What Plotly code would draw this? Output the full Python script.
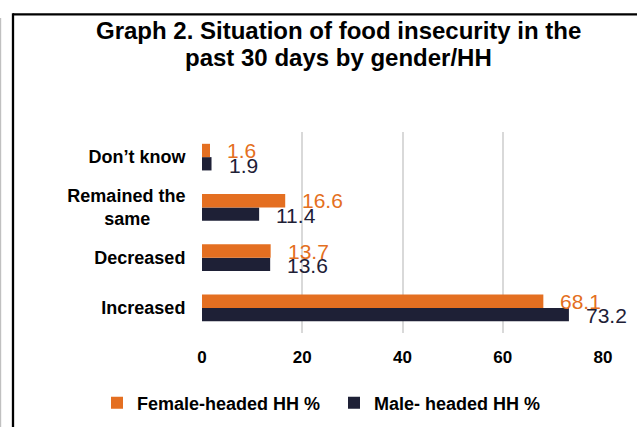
import plotly.graph_objects as go

# ---- data ----
NB = "\u00a0"
categories = ["Increased", "Decreased", "Remained the<br>same" + NB * 7, "Don\u2019t know"]
female = [68.1, 13.7, 16.6, 1.6]
male = [73.2, 13.6, 11.4, 1.9]
series_names = ["Female-headed HH %", "Male- headed HH %"]
x_ticks = [0, 20, 40, 60, 80]
title_lines = ["Graph 2. Situation of food insecurity in the", "past 30 days by gender/HH"]

# ---- styling ----
W, H = 637, 427
ML, MR, MT, MB = 202, 34, 132, 94
PW, PH = W - ML - MR, H - MT - MB
ORANGE = "#E46F21"
NAVY = "#1E2036"
FONT = "Liberation Sans, Arial, sans-serif"


def px_x(p):
    return (p - ML) / PW


def px_y(p):
    return (H - MB - p) / PH


fig = go.Figure()
fig.add_trace(go.Bar(y=categories, x=male, orientation="h", name=series_names[1],
                     marker=dict(color=NAVY, line=dict(width=0))))
fig.add_trace(go.Bar(y=categories, x=female, orientation="h", name=series_names[0],
                     marker=dict(color=ORANGE, line=dict(width=0))))

annotations = []
for cat, v in zip(categories, female):
    annotations.append(dict(x=v, y=cat, xref="x", yref="y", text=f"{v:.1f}",
                            showarrow=False, xanchor="left", yanchor="middle",
                            xshift=15, yshift=6.6,
                            font=dict(family=FONT, size=21, color=ORANGE)))
for cat, v in zip(categories, male):
    annotations.append(dict(x=v, y=cat, xref="x", yref="y", text=f"{v:.1f}",
                            showarrow=False, xanchor="left", yanchor="middle",
                            xshift=15, yshift=-8,
                            font=dict(family=FONT, size=21, color=NAVY)))

# title, two lines
for line, yc in zip(title_lines, [31, 58]):
    annotations.append(dict(x=px_x(338), y=px_y(yc), xref="paper", yref="paper",
                            text=f"<b>{line}</b>", showarrow=False,
                            xanchor="center", yanchor="middle",
                            font=dict(family=FONT, size=24, color="black")))

shapes = [
    # black frame (left and top)
    dict(type="line", xref="paper", yref="paper", x0=px_x(13), x1=px_x(640),
         y0=px_y(14.3), y1=px_y(14.3), line=dict(color="black", width=2.3)),
    dict(type="line", xref="paper", yref="paper", x0=px_x(13), x1=px_x(13),
         y0=px_y(13.2), y1=px_y(430), line=dict(color="black", width=2.3)),
    # faint gray edge at far left
    dict(type="line", xref="paper", yref="paper", x0=px_x(0.6), x1=px_x(0.6),
         y0=px_y(18), y1=px_y(430), line=dict(color="#c0c0c0", width=1.2)),
]

fig.update_layout(
    width=W, height=H,
    margin=dict(l=ML, r=MR, t=MT, b=MB, pad=0, autoexpand=False),
    paper_bgcolor="white", plot_bgcolor="white",
    barmode="group", bargap=0.47, bargroupgap=0,
    font=dict(family=FONT, color="black"),
    xaxis=dict(range=[0, 80], tickvals=x_ticks, ticktext=[str(t) for t in x_ticks],
               showgrid=True, gridcolor="#d9d9d9", gridwidth=1.5,
               zeroline=False, showline=False,
               ticks="outside", ticklen=9, tickcolor="rgba(0,0,0,0)",
               tickfont=dict(family=FONT, size=17, color="black", weight="bold"),
               fixedrange=True, automargin=False),
    yaxis=dict(type="category", categoryorder="array", categoryarray=categories,
               showgrid=False, zeroline=False, showline=False,
               ticks="outside", ticklen=12, tickcolor="rgba(0,0,0,0)",
               tickfont=dict(family=FONT, size=18, color="black", weight="bold"),
               fixedrange=True, automargin=False),
    legend=dict(orientation="h", traceorder="reversed",
                x=px_x(97), xanchor="left", y=px_y(403), yanchor="middle",
                font=dict(family=FONT, size=18, color="black", weight="bold"),
                bgcolor="rgba(0,0,0,0)", entrywidth=192, entrywidthmode="pixels",
                itemwidth=30),
    annotations=annotations,
    shapes=shapes,
    showlegend=True,
)

fig.write_html("out.html",
               config={"displayModeBar": False},
               post_script="document.body.style.margin='0px';"
                           "document.documentElement.style.overflow='hidden';")
